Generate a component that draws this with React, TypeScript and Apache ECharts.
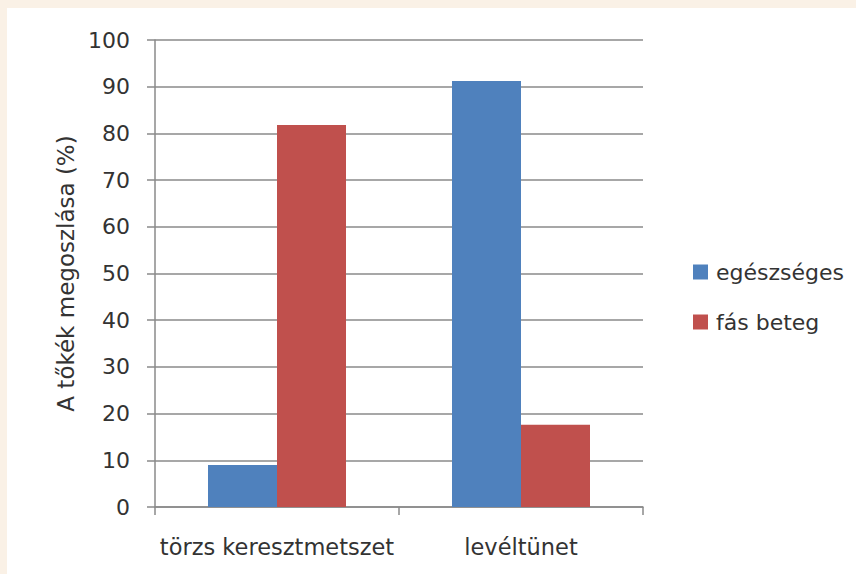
import React, { useEffect, useRef } from "react";
import * as echarts from "echarts";

const categories = ["törzs keresztmetszet", "levéltünet"];
const healthy = [9, 91.2];
const diseased = [81.8, 17.6];
const seriesNames = ["egészséges", "fás beteg"];
const yAxisTitle = "A tőkék megoszlása (%)";

const FONT = "DejaVu Sans";
const TEXT = "#333333";
const GRID = "#8a8a8a";

export default function App() {
  const ref = useRef<HTMLDivElement>(null);

  useEffect(() => {
    if (!ref.current) return;
    const chart = echarts.init(ref.current, undefined, { renderer: "svg" });
    chart.setOption({
      animation: false,
      backgroundColor: "transparent",
      textStyle: { fontFamily: FONT },
      grid: { left: 155, top: 40, width: 488, height: 467 },
      legend: {
        orient: "vertical",
        left: 688,
        top: 256,
        icon: "rect",
        itemWidth: 15,
        itemHeight: 15,
        itemGap: 28,
        data: seriesNames,
        textStyle: { fontFamily: FONT, fontSize: 22, color: TEXT, padding: [0, 0, 0, 3] },
      },
      xAxis: {
        type: "category",
        data: categories,
        axisLine: { lineStyle: { color: GRID, width: 1.5 } },
        axisTick: { show: true, length: 8, alignWithLabel: false, lineStyle: { color: GRID, width: 1.5 } },
        axisLabel: { fontFamily: FONT, fontSize: 22.5, color: TEXT, margin: 28, interval: 0 },
      },
      yAxis: {
        type: "value",
        min: 0,
        max: 100,
        interval: 10,
        name: yAxisTitle,
        nameLocation: "middle",
        nameRotate: 90,
        nameGap: 78,
        nameTextStyle: { fontFamily: FONT, fontSize: 23, color: TEXT },
        axisLine: { show: true, lineStyle: { color: GRID, width: 1.5 } },
        axisTick: { show: true, length: 8, lineStyle: { color: GRID, width: 1.5 } },
        axisLabel: { fontFamily: FONT, fontSize: 22, color: TEXT, margin: 25 },
        splitLine: { show: true, lineStyle: { color: GRID, width: 1.5 } },
      },
      series: [
        {
          name: seriesNames[0],
          type: "bar",
          data: healthy,
          barWidth: 69,
          barGap: "0%",
          itemStyle: { color: "#4F81BD" },
        },
        {
          name: seriesNames[1],
          type: "bar",
          data: diseased,
          barWidth: 69,
          barGap: "0%",
          itemStyle: { color: "#C0504D" },
        },
      ],
    });
    return () => chart.dispose();
  }, []);

  return (
    <div style={{ position: "fixed", left: 0, top: 0, width: 856, height: 574, background: "#FAF1E6" }}>
      <div style={{ position: "absolute", left: 7, top: 8, right: 0, bottom: 0, background: "#ffffff" }} />
      <div ref={ref} style={{ position: "absolute", left: 0, top: 0, width: 856, height: 574 }} />
    </div>
  );
}
